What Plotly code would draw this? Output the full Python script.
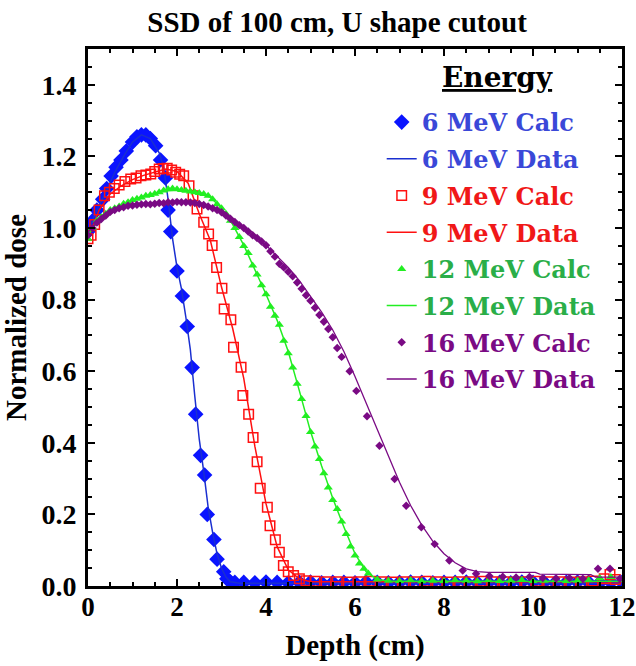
import plotly.graph_objects as go

# ---------------- data ----------------
x6_calc = [0.0, 0.1, 0.2, 0.33, 0.42, 0.52, 0.63, 0.74, 0.86, 1.0, 1.1, 1.2, 1.3, 1.4, 1.52, 1.63,
           1.74, 1.80, 1.86, 2.0, 2.12, 2.23, 2.34, 2.42, 2.53, 2.62, 2.68, 2.83, 2.90, 3.05, 3.12,
           3.2, 3.3, 3.5, 3.75, 4.0, 4.25, 4.5, 4.75, 5.0, 5.25, 5.5, 5.75, 6.0, 6.25, 6.5, 6.75,
           7.0, 7.25, 7.5, 7.75, 8.0, 8.25, 8.5, 8.75, 9.0, 9.25, 9.5, 9.75, 10.0, 10.25, 10.5,
           10.75, 11.0, 11.25, 11.5, 11.75, 12.0]
y6_calc = [0.99, 1.02, 1.05, 1.08, 1.11, 1.145, 1.17, 1.19, 1.215, 1.24, 1.255, 1.26, 1.26, 1.25,
           1.23, 1.19, 1.14, 1.05, 0.99, 0.88, 0.81, 0.725, 0.61, 0.48, 0.365, 0.31, 0.20, 0.13,
           0.075, 0.04, 0.02, 0.012, 0.010, 0.010, 0.009, 0.011, 0.010, 0.009, 0.010, 0.011, 0.009,
           0.010, 0.010, 0.009, 0.011, 0.010, 0.009, 0.010, 0.011, 0.010, 0.009, 0.010, 0.010,
           0.011, 0.009, 0.010, 0.010, 0.009, 0.011, 0.010, 0.010, 0.009, 0.010, 0.011, 0.010,
           0.009, 0.010, 0.010]

x6_data = [0.0, 0.2, 0.4, 0.6, 0.8, 1.0, 1.2, 1.4, 1.6, 1.7, 1.8, 1.9, 2.0, 2.1, 2.2, 2.3, 2.4,
           2.5, 2.6, 2.7, 2.8, 2.9, 3.0, 3.1, 3.2, 3.4, 4.0, 5.0, 6.0, 7.0, 8.0, 9.0, 10.0, 11.0, 12.0]
y6_data = [0.99, 1.05, 1.10, 1.155, 1.20, 1.24, 1.26, 1.25, 1.21, 1.17, 1.08, 0.97, 0.89, 0.83,
           0.75, 0.66, 0.53, 0.41, 0.32, 0.22, 0.15, 0.09, 0.05, 0.025, 0.012, 0.008, 0.008, 0.008,
           0.008, 0.008, 0.008, 0.008, 0.008, 0.008, 0.008]

x9_calc = [0.0, 0.07, 0.15, 0.25, 0.37, 0.48, 0.59, 0.70, 0.83, 0.96, 1.08, 1.19, 1.30, 1.41, 1.50,
           1.60, 1.69, 1.78, 1.88, 1.97, 2.06, 2.15, 2.27, 2.36, 2.45, 2.60, 2.71, 2.79, 2.89, 3.01,
           3.06, 3.21, 3.27, 3.44, 3.48, 3.61, 3.71, 3.80, 3.87, 4.03, 4.09, 4.21, 4.30, 4.39, 4.50,
           4.62, 4.75, 4.9, 5.1, 5.35, 5.6, 5.85, 6.1, 6.35, 6.6, 6.85, 7.1, 7.35, 7.6, 7.85, 8.1,
           8.35, 8.6, 8.85, 9.1, 9.35, 9.6, 9.85, 10.1, 10.35, 10.6, 10.85, 11.1, 11.35, 11.6,
           11.73, 11.85]
y9_calc = [0.97, 0.98, 1.01, 1.05, 1.09, 1.10, 1.11, 1.12, 1.13, 1.137, 1.14, 1.146, 1.148, 1.151,
           1.158, 1.165, 1.166, 1.167, 1.162, 1.156, 1.15, 1.146, 1.118, 1.09, 1.053, 1.016, 0.983,
           0.951, 0.89, 0.832, 0.774, 0.744, 0.667, 0.611, 0.532, 0.48, 0.415, 0.347, 0.273, 0.22,
           0.168, 0.129, 0.094, 0.057, 0.04, 0.029, 0.02, 0.015, 0.013, 0.012, 0.012, 0.011, 0.012,
           0.013, 0.012, 0.011, 0.012, 0.012, 0.013, 0.012, 0.011, 0.012, 0.012, 0.013, 0.012,
           0.012, 0.011, 0.012, 0.013, 0.012, 0.012, 0.011, 0.012, 0.014, 0.02, 0.032, 0.018]

x9_data = [0.0, 0.25, 0.5, 0.75, 1.0, 1.25, 1.5, 1.75, 2.0, 2.25, 2.5, 2.75, 3.0, 3.25, 3.5, 3.75,
           4.0, 4.25, 4.5, 4.75, 5.0, 6.0, 7.0, 8.0, 9.0, 10.0, 11.0, 12.0]
y9_data = [0.97, 1.05, 1.095, 1.118, 1.135, 1.147, 1.156, 1.165, 1.158, 1.125, 1.04, 0.965, 0.835,
           0.72, 0.58, 0.39, 0.23, 0.11, 0.045, 0.02, 0.012, 0.012, 0.012, 0.012, 0.012, 0.012,
           0.012, 0.012]

x12_calc = [0.0, 0.1, 0.2, 0.3, 0.4, 0.5, 0.6, 0.7, 0.8, 0.9, 1.0, 1.1, 1.2, 1.3, 1.4, 1.5, 1.6,
            1.7, 1.8, 1.9, 2.0, 2.1, 2.2, 2.3, 2.4, 2.5, 2.6, 2.7, 2.8, 2.9, 3.0, 3.1, 3.2, 3.3,
            3.4, 3.5, 3.6, 3.7, 3.8, 3.9, 4.0, 4.1, 4.2, 4.3, 4.4, 4.5, 4.6, 4.7, 4.8, 4.9, 5.0,
            5.1, 5.2, 5.3, 5.4, 5.5, 5.6, 5.7, 5.8, 5.9, 6.0, 6.1, 6.2, 6.3, 6.5, 6.75, 7.0, 7.25,
            7.5, 7.75, 8.0, 8.25, 8.5, 8.75, 9.0, 9.25, 9.5, 9.75, 10.0, 10.25, 10.5, 10.75, 11.0,
            11.25, 11.5, 11.75, 12.0]
y12_calc = [0.97, 1.0, 1.02, 1.03, 1.04, 1.05, 1.055, 1.06, 1.068, 1.072, 1.078, 1.082, 1.085,
            1.09, 1.092, 1.096, 1.10, 1.105, 1.108, 1.11, 1.108, 1.106, 1.104, 1.102, 1.10, 1.098,
            1.095, 1.09, 1.08, 1.066, 1.055, 1.04, 1.02, 1.0, 0.975, 0.95, 0.93, 0.895, 0.87, 0.84,
            0.815, 0.78, 0.755, 0.73, 0.685, 0.65, 0.61, 0.565, 0.522, 0.475, 0.43, 0.39, 0.355,
            0.315, 0.275, 0.24, 0.215, 0.18, 0.145, 0.11, 0.085, 0.063, 0.048, 0.035, 0.018, 0.015,
            0.014, 0.016, 0.013, 0.015, 0.014, 0.016, 0.015, 0.013, 0.016, 0.014, 0.015, 0.017,
            0.014, 0.015, 0.016, 0.014, 0.015, 0.016, 0.022, 0.025, 0.018]

x12_data = [0.0, 0.25, 0.5, 0.75, 1.0, 1.25, 1.5, 1.75, 2.0, 2.25, 2.5, 2.75, 3.0, 3.25, 3.5, 3.75,
            4.0, 4.25, 4.5, 4.75, 5.0, 5.25, 5.5, 5.75, 6.0, 6.25, 6.5, 6.75, 7.0, 8.0, 9.0, 10.0,
            11.0, 12.0]
y12_data = [0.98, 1.025, 1.048, 1.064, 1.077, 1.088, 1.096, 1.104, 1.106, 1.103, 1.097, 1.086,
            1.055, 1.01, 0.952, 0.885, 0.815, 0.742, 0.655, 0.545, 0.432, 0.335, 0.245, 0.165, 0.09,
            0.04, 0.018, 0.014, 0.013, 0.013, 0.013, 0.013, 0.013, 0.013]

x16_calc = [0.0, 0.1, 0.2, 0.3, 0.4, 0.5, 0.6, 0.7, 0.8, 0.9, 1.0, 1.1, 1.2, 1.3, 1.4, 1.5, 1.6,
            1.7, 1.8, 1.9, 2.0, 2.1, 2.2, 2.3, 2.4, 2.5, 2.6, 2.7, 2.8, 2.9, 3.0, 3.1, 3.2, 3.3,
            3.4, 3.5, 3.6, 3.7, 3.8, 3.9, 4.0, 4.1, 4.2, 4.3, 4.4, 4.5, 4.6, 4.7, 4.8, 4.9, 5.0,
            5.1, 5.2, 5.3, 5.4, 5.5, 5.6, 5.7, 5.88, 6.03, 6.27, 6.55, 6.89, 7.15, 7.49, 7.79,
            8.12, 8.42, 8.72, 9.02, 9.32, 9.62, 9.92, 10.22, 10.52, 10.82, 11.12, 11.46, 11.73,
            11.95]
y16_calc = [0.98, 1.0, 1.015, 1.025, 1.035, 1.045, 1.05, 1.055, 1.058, 1.062, 1.063, 1.065, 1.066,
            1.067, 1.066, 1.068, 1.07, 1.069, 1.072, 1.071, 1.073, 1.072, 1.072, 1.071, 1.07, 1.067,
            1.064, 1.06, 1.055, 1.05, 1.044, 1.035, 1.026, 1.017, 1.008, 1.0, 0.99, 0.98, 0.972,
            0.962, 0.952, 0.935, 0.92, 0.90, 0.89, 0.878, 0.865, 0.848, 0.83, 0.812, 0.797, 0.777,
            0.757, 0.738, 0.718, 0.695, 0.665, 0.64, 0.60, 0.545, 0.474, 0.392, 0.299, 0.224,
            0.164, 0.117, 0.071, 0.043, 0.034, 0.028, 0.026, 0.024, 0.025, 0.022, 0.021, 0.022,
            0.02, 0.048, 0.048, 0.02]

x16_data = [0.0, 0.25, 0.5, 0.75, 1.0, 1.25, 1.5, 1.75, 2.0, 2.25, 2.5, 2.75, 3.0, 3.25, 3.5, 3.75,
            4.0, 4.25, 4.5, 4.75, 5.0, 5.25, 5.5, 5.75, 6.0, 6.25, 6.5, 6.75, 7.0, 7.25, 7.5, 7.75,
            8.0, 8.25, 8.5, 8.75, 9.0, 10.05, 10.15, 11.3, 11.4, 12.0]
y16_data = [0.99, 1.02, 1.04, 1.055, 1.062, 1.067, 1.07, 1.072, 1.073, 1.072, 1.067, 1.058, 1.045,
            1.025, 1.0, 0.978, 0.952, 0.922, 0.89, 0.853, 0.81, 0.765, 0.715, 0.655, 0.585, 0.51,
            0.435, 0.36, 0.29, 0.225, 0.17, 0.125, 0.09, 0.065, 0.048, 0.04, 0.038, 0.038, 0.033,
            0.032, 0.025, 0.025]

x_ticks = [0, 2, 4, 6, 8, 10, 12]
y_ticks = [0.0, 0.2, 0.4, 0.6, 0.8, 1.0, 1.2, 1.4]

# ---------------- styling ----------------
C6, C6L, T6 = "#0a14ff", "#1a2fd0", "#3a48d8"
C9, T9 = "#ff1010", "#f01818"
C12, T12 = "#22ee22", "#2aae48"
C16, T16 = "#7a0a84", "#7a0a84"

SERIF = "Liberation Serif"
LEG = "DejaVu Serif"


def lname(text, color):
    return f'<span style="color:{color}"><b>{text}</b></span>'


fig = go.Figure()
fig.add_trace(go.Scatter(x=x6_calc, y=y6_calc, mode="markers", name=lname("6 MeV Calc", T6),
                         legendgroup="a",
                         marker=dict(symbol="diamond", size=12, color=C6)))
fig.add_trace(go.Scatter(x=x6_data, y=y6_data, mode="lines", name=lname("6 MeV Data", T6),
                         legendgroup="b",
                         line=dict(color=C6L, width=1.5)))
fig.add_trace(go.Scatter(x=x9_calc, y=y9_calc, mode="markers", name=lname("9 MeV Calc", T9),
                         legendgroup="c",
                         marker=dict(symbol="square-open", size=9.5, color=C9,
                                     line=dict(width=1.5, color=C9))))
fig.add_trace(go.Scatter(x=x9_data, y=y9_data, mode="lines", name=lname("9 MeV Data", T9),
                         legendgroup="d",
                         line=dict(color=C9, width=1.5)))
fig.add_trace(go.Scatter(x=x12_calc, y=y12_calc, mode="markers", name=lname("12 MeV Calc", T12),
                         legendgroup="e",
                         marker=dict(symbol="triangle-up", size=8, color=C12)))
fig.add_trace(go.Scatter(x=x12_data, y=y12_data, mode="lines", name=lname("12 MeV Data", T12),
                         legendgroup="f",
                         line=dict(color=C12, width=1.5)))
fig.add_trace(go.Scatter(x=x16_calc, y=y16_calc, mode="markers", name=lname("16 MeV Calc", T16),
                         legendgroup="g",
                         marker=dict(symbol="diamond", size=6.5, color=C16)))
fig.add_trace(go.Scatter(x=x16_data, y=y16_data, mode="lines", name=lname("16 MeV Data", T16),
                         legendgroup="h",
                         line=dict(color=C16, width=1.3)))

axis_common = dict(
    showline=True, linecolor="black", linewidth=3, mirror="ticks",
    ticks="inside", ticklen=7, tickwidth=2, tickcolor="black",
    showgrid=False, zeroline=False, automargin=False, ticklabeloverflow="allow",
)

fig.update_layout(
    width=636, height=666,
    paper_bgcolor="white", plot_bgcolor="white",
    margin=dict(l=88, r=14, t=49, b=80),
    title=dict(text="<b>SSD of 100 cm, U shape cutout</b>", x=0.53, xref="container",
               xanchor="center", y=0.967, yanchor="middle", yref="container",
               font=dict(family=SERIF, size=29, color="black")),
    xaxis=dict(range=[0, 12], tickvals=x_ticks, ticktext=[str(v) for v in x_ticks],
               ticklabelstandoff=-5,
               tickfont=dict(family=SERIF, size=27, color="black", weight="bold"),
               minor=dict(dtick=0.5, ticks="inside", ticklen=4, tickwidth=2, tickcolor="black"),
               title=dict(text="<b>Depth (cm)</b>", standoff=14,
                          font=dict(family=SERIF, size=29, color="black")),
               **axis_common),
    yaxis=dict(range=[0, 1.5], tickvals=y_ticks, ticktext=[f"{v:.1f}" for v in y_ticks],
               ticklabelstandoff=3,
               tickfont=dict(family=SERIF, size=28, color="black", weight="bold"),
               minor=dict(dtick=0.05, ticks="inside", ticklen=4, tickwidth=2, tickcolor="black"),
               title=dict(text="<b>Normalized dose</b>", standoff=7,
                          font=dict(family=SERIF, size=29, color="black")),
               **axis_common),
    legend=dict(x=0.55, y=0.905, xanchor="left", yanchor="top",
                bgcolor="rgba(0,0,0,0)", borderwidth=0,
                font=dict(family=LEG, size=24),
                tracegroupgap=2.5, itemwidth=30),
    annotations=[dict(text="<b><u>Energy</u></b>", x=0.766, y=0.946, xref="paper", yref="paper",
                      xanchor="center", yanchor="middle", showarrow=False,
                      font=dict(family=LEG, size=28, color="black"))],
    showlegend=True,
)

fig.write_html("out.html", config={"displayModeBar": False},
               post_script="document.body.style.margin='0px';")
